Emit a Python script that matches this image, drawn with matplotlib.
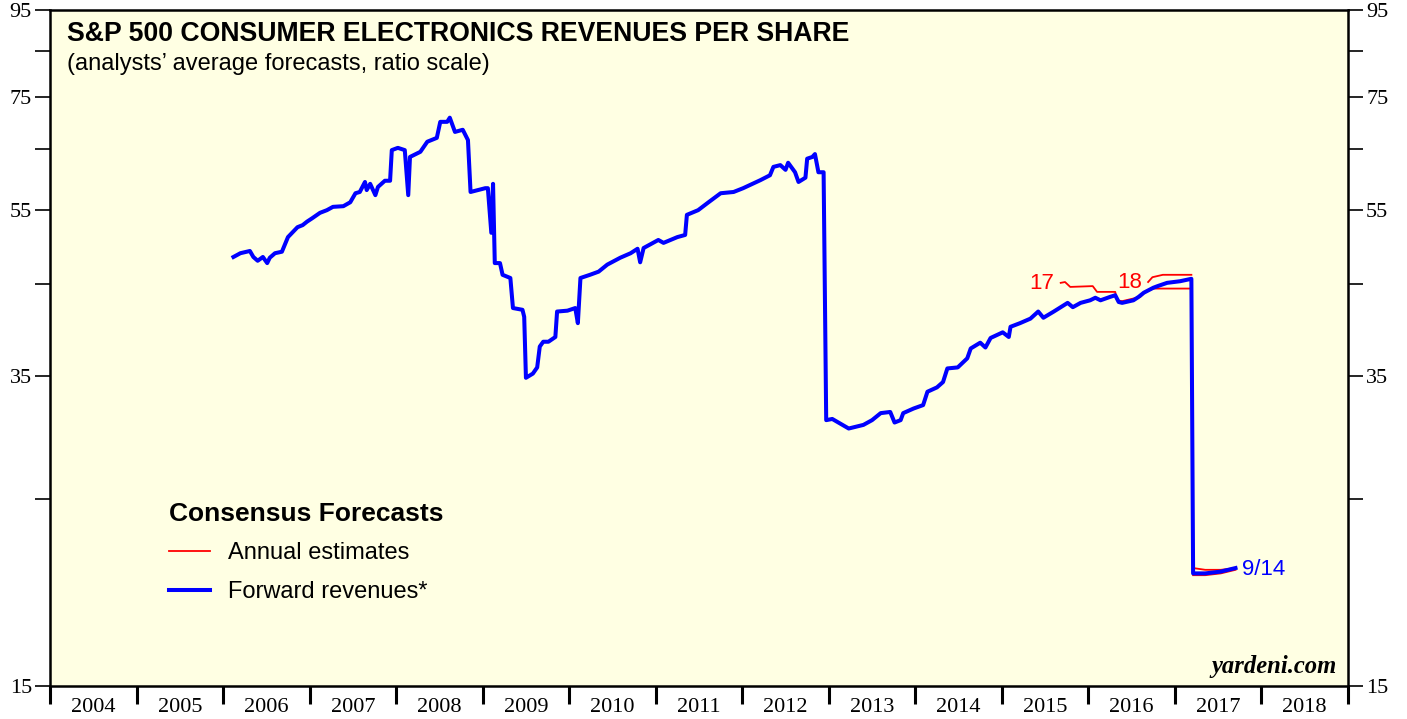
#!/usr/bin/env python3
# S&P 500 Consumer Electronics revenues per share (yardeni style chart)

import matplotlib
matplotlib.use("Agg")
import matplotlib.pyplot as plt
from matplotlib.lines import Line2D
import numpy as np

# Forward revenues (blue), decimal years and $ per share
fwd_years = [2006.12, 2006.20, 2006.31, 2006.35, 2006.40, 2006.46, 2006.51, 2006.54,
             2006.60, 2006.68, 2006.75, 2006.86, 2006.92, 2006.97, 2007.03, 2007.12,
             2007.20, 2007.27, 2007.39, 2007.47, 2007.53, 2007.58, 2007.64, 2007.66,
             2007.70, 2007.76, 2007.79, 2007.87, 2007.93, 2007.95, 2008.02, 2008.10,
             2008.14, 2008.16, 2008.28, 2008.36, 2008.47, 2008.51, 2008.59, 2008.62,
             2008.68, 2008.77, 2008.83, 2008.86, 2009.03, 2009.06, 2009.10, 2009.12,
             2009.14, 2009.20, 2009.23, 2009.32, 2009.35, 2009.46, 2009.48, 2009.50,
             2009.58, 2009.63, 2009.66, 2009.70, 2009.76, 2009.84, 2009.86, 2009.98,
             2010.07, 2010.10, 2010.13, 2010.24, 2010.34, 2010.44, 2010.59, 2010.71,
             2010.79, 2010.82, 2010.86, 2010.97, 2011.03, 2011.09, 2011.25, 2011.34,
             2011.36, 2011.49, 2011.61, 2011.75, 2011.90, 2012.01, 2012.21, 2012.32,
             2012.36, 2012.44, 2012.50, 2012.53, 2012.61, 2012.65, 2012.73, 2012.75,
             2012.81, 2012.84, 2012.88, 2012.94, 2012.97, 2013.04, 2013.11, 2013.23,
             2013.40, 2013.50, 2013.60, 2013.71, 2013.76, 2013.83, 2013.86, 2013.98,
             2014.09, 2014.14, 2014.25, 2014.32, 2014.37, 2014.49, 2014.60, 2014.64,
             2014.75, 2014.81, 2014.87, 2015.01, 2015.08, 2015.10, 2015.21, 2015.33,
             2015.42, 2015.48, 2015.60, 2015.76, 2015.82, 2015.91, 2016.02, 2016.08,
             2016.14, 2016.25, 2016.31, 2016.35, 2016.39, 2016.52, 2016.58, 2016.64,
             2016.75, 2016.80, 2016.91, 2017.06, 2017.19, 2017.21, 2017.35, 2017.53,
             2017.70]
fwd_values = [48.4, 48.9, 49.2, 48.4, 47.9, 48.4, 47.6, 48.3,
              48.9, 49.1, 51.1, 52.5, 52.8, 53.3, 53.8, 54.6,
              55.0, 55.5, 55.6, 56.2, 57.6, 57.8, 59.4, 58.1,
              59.1, 57.3, 58.6, 59.6, 59.6, 64.8, 65.2, 64.8,
              57.3, 63.6, 64.5, 66.3, 67.0, 70.0, 70.0, 70.8,
              68.1, 68.5, 66.6, 57.8, 58.4, 58.4, 51.7, 59.1,
              47.6, 47.6, 46.1, 45.7, 42.1, 41.9, 41.1, 34.8,
              35.2, 35.8, 37.9, 38.4, 38.4, 38.9, 41.7, 41.8,
              42.1, 40.4, 45.7, 46.1, 46.5, 47.4, 48.3, 48.9,
              49.5, 47.7, 49.6, 50.3, 50.7, 50.3, 51.1, 51.4,
              54.3, 55.0, 56.2, 57.6, 57.8, 58.4, 59.7, 60.5,
              61.9, 62.2, 61.4, 62.6, 61.0, 59.4, 60.1, 63.3,
              63.6, 64.1, 61.0, 61.0, 31.0, 31.1, 30.8, 30.3,
              30.6, 31.0, 31.6, 31.7, 30.8, 31.0, 31.6, 32.0,
              32.3, 33.5, 33.9, 34.4, 35.7, 35.8, 36.7, 37.7,
              38.3, 37.8, 38.8, 39.4, 38.9, 40.0, 40.4, 40.9,
              41.7, 41.0, 41.7, 42.7, 42.2, 42.7, 43.0, 43.3,
              43.0, 43.4, 43.6, 42.8, 42.7, 43.0, 43.4, 43.9,
              44.5, 44.7, 45.1, 45.3, 45.6, 20.4, 20.4, 20.5,
              20.7]

# Annual estimates (red)
est17_years = [2015.68, 2015.73, 2015.79, 2016.05, 2016.10, 2016.31, 2016.33, 2016.39,
               2016.60, 2016.66, 2016.75, 2017.19]
est17_values = [45.1, 45.2, 44.6, 44.7, 44.0, 44.0, 43.0, 42.9,
                43.4, 44.0, 44.4, 44.4]
est18_years = [2016.69, 2016.74, 2016.86, 2017.19]
est18_values = [45.2, 45.8, 46.1, 46.1]
est17_new_years = [2017.21, 2017.35, 2017.53, 2017.70]
est17_new_values = [20.3, 20.3, 20.4, 20.6]
est18_new_years = [2017.21, 2017.35, 2017.53, 2017.70]
est18_new_values = [20.7, 20.6, 20.6, 20.7]

year_labels = [str(y) for y in range(2004, 2019)]
y_ticks = [15, 25, 35, 45, 55, 65, 75, 85, 95]
y_labels = ["15", "", "35", "", "55", "", "75", "", "95"]

BLUE = "#0000FF"
RED = "#FF0000"
SANS = "Liberation Sans"
SERIF = "Liberation Serif"


def main():
    fig = plt.figure(figsize=(14.07, 7.19), dpi=100)
    ax = fig.add_axes([50 / 1407, 33 / 719, 1298 / 1407, 676 / 719])
    ax.set_facecolor("#FFFFE3")

    # data
    ax.plot(est17_years, est17_values, color=RED, lw=1.3)
    ax.plot(est18_years, est18_values, color=RED, lw=1.3)
    ax.plot(est17_new_years, est17_new_values, color=RED, lw=1.3)
    ax.plot(est18_new_years, est18_new_values, color=RED, lw=1.3)
    ax.plot(fwd_years, fwd_values, color=BLUE, lw=2.9)

    # axes
    ax.set_yscale("log")
    ax.set_ylim(15, 95)
    ax.set_xlim(2004, 2019)
    ax.yaxis.set_major_locator(matplotlib.ticker.FixedLocator(y_ticks))
    ax.yaxis.set_minor_locator(matplotlib.ticker.NullLocator())
    ax.set_yticklabels(y_labels)
    ax.tick_params(axis="y", which="major", direction="out", length=11, width=1.2,
                   left=True, right=True, labelleft=True, labelright=True,
                   labelsize=16, pad=2)

    ax.set_xticks(range(2004, 2020))
    ax.set_xticklabels([])
    ax.set_xticks([y + 0.5 for y in range(2004, 2019)], minor=True)
    ax.set_xticklabels(year_labels, minor=True)
    ax.tick_params(axis="x", which="major", direction="out", length=13, width=2.2)
    ax.tick_params(axis="x", which="minor", length=0, labelsize=16, pad=9)
    for lab in ax.get_xticklabels(minor=True) + ax.get_yticklabels():
        lab.set_family(SERIF)

    for s in ax.spines.values():
        s.set_linewidth(1.8)

    # titles
    ax.text(0.013, 0.983, "S&P 500 CONSUMER ELECTRONICS REVENUES PER SHARE",
            transform=ax.transAxes, family=SANS, weight="bold", fontsize=19.2,
            va="top", ha="left")
    ax.text(0.013, 0.937, "(analysts\u2019 average forecasts, ratio scale)",
            transform=ax.transAxes, family=SANS, fontsize=17, va="top", ha="left")

    # labels on lines
    ax.text(2015.60, 45.0, "17", color=RED, family=SANS, fontsize=16,
            ha="right", va="center")
    ax.text(2016.62, 45.2, "18", color=RED, family=SANS, fontsize=16,
            ha="right", va="center")
    ax.text(2017.78, 20.6, "9/14", color=BLUE, family=SANS, fontsize=16,
            ha="left", va="center")

    # legend
    handles = [Line2D([], [], color=RED, lw=1.3),
               Line2D([], [], color=BLUE, lw=2.9)]
    leg = ax.legend(handles, ["Annual estimates", "Forward revenues*"],
                    loc="upper left", bbox_to_anchor=(0.079, 0.297),
                    frameon=False, title="Consensus Forecasts",
                    title_fontproperties={"family": SANS, "weight": "bold", "size": 19},
                    alignment="left", prop={"family": SANS, "size": 17},
                    handlelength=1.75, handletextpad=0.75, labelspacing=0.7,
                    borderpad=0.2)

    ax.text(0.9915, 0.012, "yardeni.com", transform=ax.transAxes, family=SERIF,
            weight="bold", style="italic", fontsize=17.7, ha="right", va="bottom")

    fig.savefig("out.png", dpi=100)


if __name__ == "__main__":
    main()
